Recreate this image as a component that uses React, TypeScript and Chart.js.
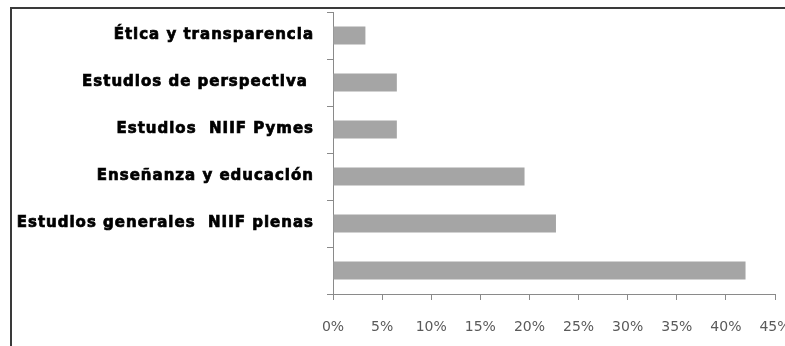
import React, { useEffect, useRef } from "react";
import { Chart, registerables } from "chart.js";

Chart.register(...registerables);

// Topics, top to bottom
const categories = [
  "Ética y transparencia",
  "Estudios de perspectiva ",
  "Estudios  NIIF Pymes",
  "Enseñanza y educación",
  "Estudios generales  NIIF plenas",
  "",
];

// Share of items per topic (%)
const shares = [3.3, 6.5, 6.5, 19.5, 22.7, 42];

// Percentage axis range
const axisMin = 0;
const axisMax = 45;
const axisStep = 5;

// Heavy, slightly tracked category labels beside the y axis
const categoryLabels = {
  id: "categoryLabels",
  afterDraw(chart: any) {
    const ctx = chart.ctx;
    const y = chart.scales.y;
    const right = y.right - 6 - 13;
    ctx.save();
    (ctx as any).letterSpacing = "1px";
    ctx.font = "bold 15px 'DejaVu Sans'";
    ctx.fillStyle = "#000000";
    ctx.strokeStyle = "#000000";
    ctx.lineWidth = 0.7;
    ctx.textAlign = "right";
    ctx.textBaseline = "middle";
    chart.data.labels.forEach((label: string, i: number) => {
      if (!label) return;
      const py = y.getPixelForValue(i);
      ctx.fillText(label, right, py);
      ctx.strokeText(label, right, py);
    });
    ctx.restore();
  },
};

export default function App() {
  const canvasRef = useRef<HTMLCanvasElement | null>(null);

  useEffect(() => {
    const canvas = canvasRef.current;
    if (!canvas) return;
    const chart = new Chart(canvas, {
      type: "bar",
      data: {
        labels: categories,
        datasets: [
          {
            data: shares,
            backgroundColor: "#a5a5a5",
            borderWidth: 0,
            barPercentage: 0.38,
            categoryPercentage: 1,
          },
        ],
      },
      plugins: [categoryLabels],
      options: {
        indexAxis: "y",
        animation: false,
        responsive: false,
        maintainAspectRatio: false,
        events: [],
        layout: { padding: { top: 12, right: 10, left: 0, bottom: 0 } },
        plugins: {
          legend: { display: false },
          tooltip: { enabled: false },
          title: { display: false },
        },
        scales: {
          y: {
            type: "category",
            grid: {
              offset: true,
              drawOnChartArea: false,
              drawTicks: true,
              tickLength: 6,
              color: "#8a8a8a",
            },
            border: { display: true, color: "#8a8a8a", width: 1 },
            ticks: { display: false },
            afterFit: (scale: any) => {
              scale.width = 333;
              scale.paddingTop = 0;
              scale.paddingBottom = 0;
            },
          },
          x: {
            type: "linear",
            min: axisMin,
            max: axisMax,
            grid: {
              drawOnChartArea: false,
              drawTicks: true,
              tickLength: 6,
              color: "#8a8a8a",
            },
            border: { display: true, color: "#8a8a8a", width: 1 },
            ticks: {
              stepSize: axisStep,
              color: "#5a5a5a",
              padding: 19,
              maxRotation: 0,
              autoSkip: false,
              font: { family: "DejaVu Sans", size: 14 },
              callback: (v: any) => `${v}%`,
            },
            afterFit: (scale: any) => {
              scale.height = 52;
              scale.paddingRight = 0;
              scale.paddingLeft = 0;
            },
          },
        },
      },
    });
    return () => chart.destroy();
  }, []);

  return (
    <div
      style={{
        position: "fixed",
        left: 0,
        top: 0,
        width: 785,
        height: 346,
        overflow: "hidden",
        background: "#ffffff",
      }}
    >
      <div
        style={{
          position: "absolute",
          left: 10,
          top: 7,
          width: 900,
          height: 500,
          borderTop: "2px solid #3a3a3a",
          borderLeft: "2px solid #3a3a3a",
        }}
      />
      <canvas
        ref={canvasRef}
        width={785}
        height={346}
        style={{ position: "absolute", left: 0, top: 0, width: 785, height: 346 }}
      />
    </div>
  );
}
